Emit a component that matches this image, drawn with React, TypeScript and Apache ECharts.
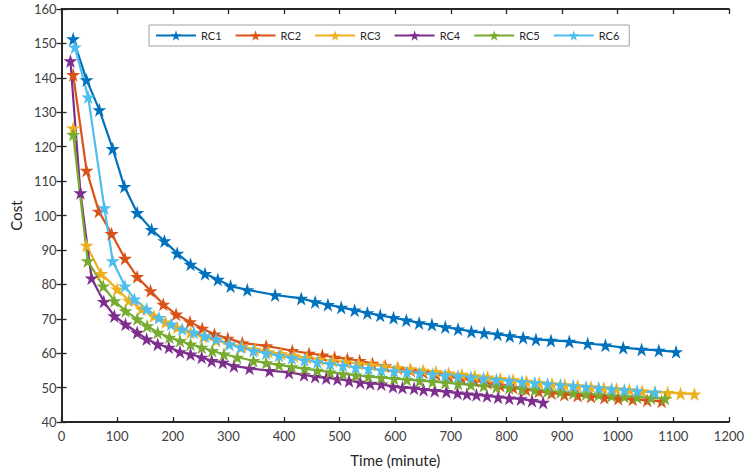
import React, { useEffect, useRef } from "react";
import * as echarts from "echarts";

const seriesNames = ["RC1", "RC2", "RC3", "RC4", "RC5", "RC6"];
const colors = ["#0072BD", "#D95319", "#EDB120", "#7E2F8E", "#77AC30", "#4DBEEE"];

const rc1Time = [21, 45, 68, 92, 113, 136, 162, 185, 208, 232, 258, 281, 304, 334, 384, 431, 456, 479, 503, 527, 550, 573, 597, 620, 643, 666, 690, 713, 737, 760, 784, 806, 830, 853, 880, 913, 946, 978, 1010, 1043, 1074, 1105];
const rc1Cost = [151.3, 139.4, 130.7, 119.4, 108.4, 100.8, 95.9, 92.6, 89, 85.8, 83.1, 81.4, 79.5, 78.4, 76.9, 75.9, 74.9, 74.1, 73.3, 72.5, 71.7, 71, 70.3, 69.6, 68.8, 68.3, 67.6, 67, 66.3, 65.9, 65.5, 65, 64.5, 64, 63.7, 63.4, 62.8, 62.3, 61.6, 61.1, 60.8, 60.4];

const rc2Time = [21, 45, 67, 90, 114, 136, 160, 183, 206, 231, 253, 275, 299, 325, 368, 415, 445, 469, 491, 514, 536, 559, 582, 605, 628, 651, 674, 697, 720, 743, 766, 789, 812, 835, 858, 881, 904, 928, 952, 976, 1001, 1027, 1053, 1079];
const rc2Cost = [140.9, 113.1, 101.2, 94.7, 87.5, 82.2, 78.1, 74.2, 71.3, 69.1, 67.2, 65.5, 64.3, 63.0, 62.1, 60.7, 59.9, 59.4, 58.8, 58.3, 57.8, 57.0, 56.3, 55.6, 55.0, 54.4, 53.8, 53.2, 52.6, 52.0, 51.3, 50.6, 50.0, 49.4, 48.9, 48.4, 48.0, 47.7, 47.4, 47.1, 46.8, 46.6, 46.3, 46.0];

const rc3Time = [21, 45, 71, 100, 121, 144, 166, 187, 208, 232, 255, 278, 301, 325, 348, 372, 395, 418, 441, 464, 488, 511, 534, 557, 580, 604, 627, 650, 673, 696, 720, 743, 766, 789, 812, 836, 859, 882, 905, 928, 952, 975, 998, 1021, 1044, 1067, 1090, 1113, 1138];
const rc3Cost = [125.4, 91.3, 83.1, 78.6, 75.3, 72.8, 70.8, 69.0, 67.5, 66.0, 64.8, 63.7, 62.7, 61.9, 61.1, 60.4, 59.8, 59.2, 58.7, 58.2, 57.8, 57.4, 57.0, 56.6, 56.2, 55.8, 55.4, 55.0, 54.6, 54.2, 53.8, 53.4, 53.0, 52.6, 52.2, 51.8, 51.4, 51.1, 50.8, 50.5, 50.2, 49.9, 49.6, 49.3, 49.0, 48.7, 48.5, 48.3, 48.1];

const rc4Time = [16, 34, 54, 76, 95, 115, 136, 153, 173, 193, 213, 232, 252, 270, 290, 310, 338, 374, 409, 436, 456, 476, 496, 517, 537, 555, 575, 596, 613, 634, 651, 671, 692, 712, 729, 746, 765, 785, 805, 826, 846, 866];
const rc4Cost = [144.9, 106.6, 81.8, 75.0, 70.8, 68.4, 66.0, 64.1, 62.6, 61.7, 60.4, 59.7, 58.8, 57.8, 57.3, 56.3, 55.6, 54.9, 54.4, 53.7, 53.2, 52.8, 52.5, 52.0, 51.5, 51.2, 51.0, 50.3, 50.0, 49.8, 49.4, 49.1, 48.8, 48.4, 48.1, 47.9, 47.6, 47.2, 46.9, 46.7, 46.2, 45.7];

const rc5Time = [21, 47, 75, 95, 115, 136, 154, 173, 194, 213, 232, 252, 271, 292, 316, 345, 368, 391, 414, 437, 460, 483, 506, 529, 552, 575, 598, 621, 644, 667, 690, 713, 736, 759, 782, 805, 828, 851, 874, 897, 920, 943, 966, 989, 1012, 1035, 1060, 1085];
const rc5Cost = [123.5, 86.8, 79.5, 75.2, 72.3, 69.9, 67.9, 66.0, 64.6, 63.6, 62.6, 61.7, 60.7, 59.7, 58.8, 57.8, 57.2, 56.6, 56.0, 55.5, 55.0, 54.5, 54.0, 53.6, 53.2, 52.9, 52.6, 52.3, 52.0, 51.7, 51.4, 51.1, 50.8, 50.5, 50.2, 49.9, 49.6, 49.3, 49.0, 48.7, 48.4, 48.1, 47.9, 47.6, 47.4, 47.2, 47.0, 46.8];

const rc6Time = [24, 48, 77, 92, 114, 131, 153, 175, 197, 217, 238, 258, 278, 302, 322, 345, 368, 391, 414, 437, 460, 483, 506, 529, 552, 575, 598, 621, 644, 667, 690, 713, 736, 759, 782, 805, 828, 851, 874, 897, 920, 943, 966, 989, 1012, 1035, 1067];
const rc6Cost = [148.9, 134.4, 102.2, 86.8, 79.5, 75.7, 72.8, 70.3, 68.4, 67.0, 66.0, 65.0, 64.1, 62.6, 61.7, 60.7, 60.0, 59.3, 58.6, 58.0, 57.4, 56.9, 56.4, 55.9, 55.5, 55.1, 54.8, 54.5, 54.2, 53.9, 53.6, 53.3, 53.0, 52.7, 52.3, 52.0, 51.7, 51.4, 51.1, 50.8, 50.5, 50.2, 49.9, 49.6, 49.3, 49.0, 48.6];

const xTickMin = 0;
const xTickMax = 1200;
const xTickStep = 100;
const yTickMin = 40;
const yTickMax = 160;
const yTickStep = 10;

const STAR =
  "path://M0,-1 L0.2245,-0.309 L0.951,-0.309 L0.363,0.118 L0.588,0.809 L0,0.382 L-0.588,0.809 L-0.363,0.118 L-0.951,-0.309 L-0.2245,-0.309 Z";

const allTimes = [rc1Time, rc2Time, rc3Time, rc4Time, rc5Time, rc6Time];
const allCosts = [rc1Cost, rc2Cost, rc3Cost, rc4Cost, rc5Cost, rc6Cost];

export default function App() {
  const ref = useRef<HTMLDivElement>(null);
  useEffect(() => {
    if (!ref.current) return;
    const chart = echarts.init(ref.current, undefined, { renderer: "svg" });
    const axisColor = "#262626";
    const labelColor = "#404040";
    const font = "Lato";
    const baseAxis = {
      axisLine: { show: true, lineStyle: { color: axisColor, width: 1.8 } },
      axisTick: { show: true, inside: true, length: 5, lineStyle: { color: axisColor, width: 1.3 } },
      splitLine: { show: false },
    };
    const series = seriesNames.map((name, i) => ({
      name,
      type: "line",
      xAxisIndex: 0,
      yAxisIndex: 0,
      data: allTimes[i].map((t, j) => [t, allCosts[i][j]]),
      symbol: STAR,
      symbolSize: 14,
      showAllSymbol: true,
      lineStyle: { color: colors[i], width: 2.2 },
      itemStyle: { color: colors[i], borderWidth: 0 },
      emphasis: { disabled: true },
    }));
    chart.setOption({
      animation: false,
      backgroundColor: "#ffffff",
      grid: { left: 49, right: 11, top: 9, bottom: 49, containLabel: false },
      legend: {
        data: seriesNames,
        left: 149,
        top: 25,
        width: 487,
        itemWidth: 40,
        itemHeight: 13,
        itemGap: 13,
        padding: [5, 10, 5, 6],
        borderColor: "#a0a0a0",
        borderWidth: 1,
        backgroundColor: "#ffffff",
        textStyle: { fontFamily: font, fontSize: 11, color: "#262626" },
      },
      xAxis: [
        {
          ...baseAxis,
          type: "value",
          min: xTickMin,
          max: xTickMax,
          interval: xTickStep,
          name: "Time (minute)",
          nameLocation: "middle",
          nameGap: 30,
          nameTextStyle: { fontFamily: font, fontSize: 15, color: "#262626" },
          axisLabel: { color: labelColor, fontFamily: font, fontSize: 13, margin: 7, formatter: (v: number) => String(v) },
        },
        {
          ...baseAxis,
          type: "value",
          position: "top",
          min: xTickMin,
          max: xTickMax,
          interval: xTickStep,
          axisLabel: { show: false },
        },
      ],
      yAxis: [
        {
          ...baseAxis,
          type: "value",
          min: yTickMin,
          max: yTickMax,
          interval: yTickStep,
          name: "Cost",
          nameLocation: "middle",
          nameGap: 32,
          nameTextStyle: { fontFamily: font, fontSize: 15, color: "#262626" },
          axisLabel: { color: labelColor, fontFamily: font, fontSize: 13, margin: 5, formatter: (v: number) => String(v) },
        },
        {
          ...baseAxis,
          type: "value",
          position: "right",
          min: yTickMin,
          max: yTickMax,
          interval: yTickStep,
          axisLabel: { show: false },
        },
      ],
      series,
    });
    return () => chart.dispose();
  }, []);
  return <div ref={ref} style={{ width: 747, height: 472, position: "absolute", left: 0, top: 0 }} />;
}
